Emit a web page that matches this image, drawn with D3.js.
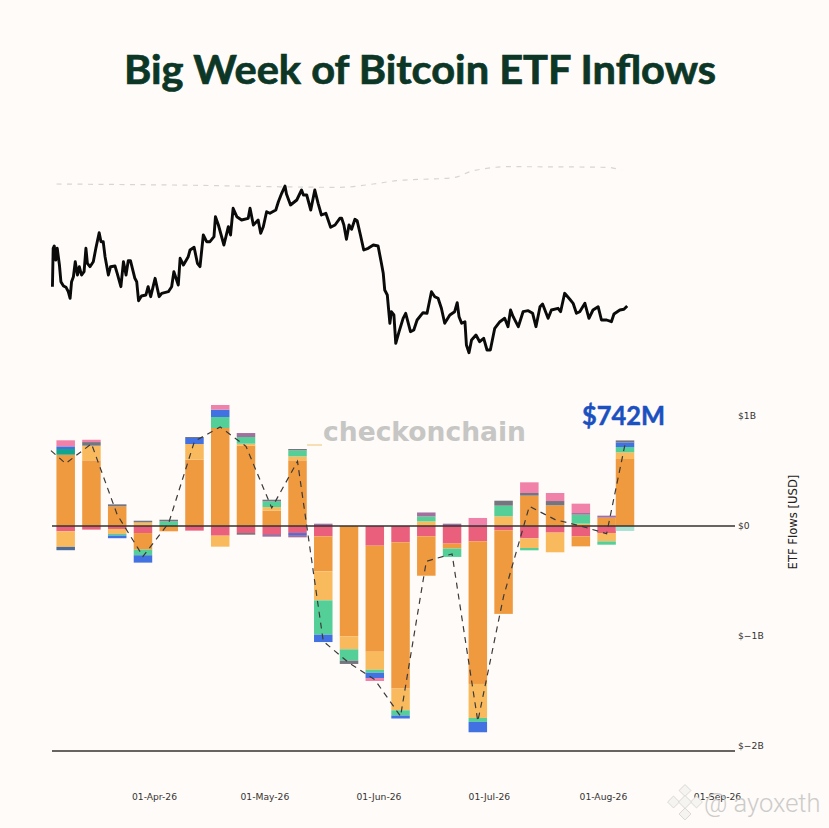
<!DOCTYPE html>
<html><head><meta charset="utf-8">
<script src="https://cdnjs.cloudflare.com/ajax/libs/d3/7.8.5/d3.min.js"></script>
<style>html,body{margin:0;padding:0;background:#fffbf8}svg{display:block}</style>
</head><body><svg id="c" width="829" height="828"></svg>
<script>
const titleText = "Big Week of Bitcoin ETF Inflows";
const weekStart = "2026-03-08";
const tickDates = ["2026-04-01","2026-05-01","2026-06-01","2026-07-01","2026-08-01","2026-09-01"];
const flowTicks = [1000,0,-1000,-2000];
const weekDays = [0,7,14,21,28,35,42,49,56,63,70,77,84,91,98,105,112,119,126,133,140,147,152];
// weekly flows, $M
const red =        [-48,-33,-27,-64,0,-42,-88,-64,-73,-64,-94,0,-179,-148,-94,-160,-139,-39,-112,-60,-94,-64,0];
const orange =     [648,597,179,-151,-48,603,891,730,139,597,-318,-1003,-964,-1330,-358,-45,-1297,-760,276,188,-91,76,609];
const lightOrange =[-142,133,-45,33,0,142,-100,18,33,36,-264,-118,-164,-197,42,0,-309,88,-88,-179,21,-76,61];
const green =      [0,0,-15,-51,42,0,100,61,52,55,-312,-103,-27,-48,45,-76,-36,97,-21,0,82,-30,48];
const teal =       [52,0,0,0,0,0,0,0,0,0,0,0,0,0,0,0,0,0,0,0,0,0,0];
const blue =       [24,0,-24,-67,0,55,67,0,0,-18,-67,0,-48,-27,0,0,-94,0,0,0,0,0,42];
const steel =      [-30,0,0,0,0,0,0,0,0,0,0,0,0,0,0,0,0,0,0,0,0,0,0];
const slate =      [0,33,18,15,15,9,0,-15,15,12,0,-30,0,0,0,0,0,45,24,39,0,0,18];
const purple =     [0,0,0,0,0,0,0,36,-24,-21,21,0,0,0,36,21,0,0,0,0,15,18,0];
const pink =       [55,21,0,0,0,0,42,0,0,0,0,0,-27,0,0,0,73,0,97,73,85,0,0];
const pale =       [0,0,0,0,0,0,0,0,0,0,0,0,0,0,0,0,0,0,0,0,0,0,-45];
const seriesNames = ["red","orange","lightOrange","green","teal","blue","steel","slate","purple","pink","pale"];
const seriesValues = [red,orange,lightOrange,green,teal,blue,steel,slate,purple,pink,pale];
const seriesColors = ["#ea5f7c","#f09a40","#f9ba5e","#55cf98","#12a48c","#4272e2","#4a6c9c","#74757e","#a2709f","#f081a8","#a8e2d2"];
// dashed net flow, $M (starts a few days before the first bar)
const netDays = [-4,0,7,14,21,28,35,42,49,56,63,70,77,84,91,98,105,112,119,126,133,140,147,152];
const netFlows = [685,568,748,103,-276,27,770,900,724,164,588,-1048,-1245,-1397,-1730,-321,-254,-1775,-639,179,58,0,-70,742];
// price line: days since 4 Mar, index level
const priceDays = [0.4,0.6,0.9,1.3,1.7,2.3,2.7,3.4,4.1,4.7,5.2,5.6,6.1,6.6,7.2,7.7,8.3,9,9.5,9.9,10.6,11.5,12.2,13.1,13.6,14.2,14.7,15.6,16.2,17.4,18,19,19.7,20.4,21,21.6,22.8,23.3,23.8,24.6,25.8,26.4,27.1,28.3,29.4,30.1,31.9,32.8,33.4,34.6,35.1,36,37.3,37.8,38.9,39.8,40.5,41.4,42.3,43.2,44.3,44.7,45.5,47,48.2,48.8,49.5,50.5,51.8,53.6,54.1,55,56.3,57,57.7,58.6,59.5,61.1,61.8,62.7,63.6,64,65.1,66.8,68.1,68.6,69.5,70.6,71.7,72.6,73.5,74.7,76,77.2,78.5,79,79.6,80.3,81,81.7,82.6,83.2,84.1,85,86.2,87.6,88.9,89.8,90.3,90.7,91.4,92.1,92.5,93.2,93.7,94.6,95.7,96.4,97.7,98.6,99.5,101.1,102.2,103.4,104.3,105.2,106.1,107,108.4,109.7,110.4,110.9,111.6,112.5,112.9,113.6,114.3,115.5,116.5,117.6,118.5,119.4,120.6,122,123.3,124.2,124.9,125.6,127,128.3,129.7,130.9,131.8,132.9,133.6,135.1,136,137.8,138.5,139.6,141,141.9,142.8,143.7,145.1,146.2,147.3,148.7,149.6,151,152.3,153,154.6,155.7,156.6];
const priceIndex = [73.3,111.7,114,100,111.7,95,78.3,74,72.7,68.3,61.7,78.3,83.3,98.3,85,93.3,85,88.3,111.7,96.7,93.3,98.3,111.7,127.3,118.3,118.3,103.3,85,93.3,94,86.7,73.3,98.3,85,99.3,99.3,81.7,78.3,59.3,64,65,73.3,63.3,81.7,63.3,66.7,68.3,73.3,88.3,75,101.7,95,103.3,110,112.7,96.7,93.3,125,118.3,118.3,123.3,143.3,135,115,133.3,125,151.7,143.3,140,141.7,151.7,135,140,126.7,133.3,148.3,146.7,150,158.3,166.7,174,166,155,160,170,165,165,150,170,156.7,145,146.7,132.7,135,141.7,141.7,135,120.7,135,130.7,140.7,139.3,125,110,111.7,115,114,96.7,86.7,70,65,36.7,48.3,45,16.7,28.3,41.7,46.7,28.3,30,40,47.3,46.7,68.3,63.3,61.7,51.7,36.7,45,48.3,57.3,43.3,36.7,38.3,15,7.3,20,25,18.3,21.7,10,10,31.7,38.3,41.7,33.3,50,43.3,33.3,48.3,49.3,46.7,33.3,53.3,56,41.7,50,51.7,48.3,66.7,60.7,56.7,46.7,48.3,56.7,41.7,50,53.3,40,40,38.3,46,50,50.7,54];
const trendDays = [1.5,33.2,78.5,87.6,93.9,109.3,114.7,117.4,123.3,151,155];
const trendIndex = [176,175,172.7,176,179.3,182.3,189.3,191,193.3,192.7,190];

const svg = d3.select("#c");
const W = 829, H = 828;
svg.append("rect").attr("width",W).attr("height",H).attr("fill","#fffbf8");
const dayMs = 864e5;
const parse = d3.utcParse("%Y-%m-%d");
const x = d3.scaleUtc().domain([parse("2026-04-01"),parse("2026-09-01")]).range([154,717]);
const base = parse(weekStart), priceBase = parse("2026-03-04");
const dateOf = d => new Date(+base + d*dayMs);
const priceDate = d => new Date(+priceBase + d*dayMs);
const yFlow = d3.scaleLinear().domain([-2000,1000]).range([746,416]);
const yPrice = d3.scaleLinear().domain([0,200]).range([360,160]);

svg.append("text").attr("x",124).attr("y",84).attr("font-family","Lato").attr("font-weight",700).attr("font-size",40)
  .attr("textLength",592).attr("lengthAdjust","spacingAndGlyphs")
  .attr("fill","#0c3626").attr("stroke","#0c3626").attr("stroke-width",0.7).text(titleText);

// trend + price
svg.append("path").attr("fill","none").attr("stroke","#d6d6d3").attr("stroke-width",1.2).attr("stroke-dasharray","5,5.5")
  .attr("d",d3.line().x((d,i)=>x(priceDate(trendDays[i]))).y(d=>yPrice(d)).curve(d3.curveMonotoneX)(trendIndex));
svg.append("path").attr("fill","none").attr("stroke","#0a0a0a").attr("stroke-width",2.9).attr("stroke-linejoin","round")
  .attr("d",d3.line().x((d,i)=>x(priceDate(priceDays[i]))).y(d=>yPrice(d))(priceIndex));

// stacked bars
const rows = weekDays.map((d,i)=>{const r={day:d};seriesNames.forEach((n,k)=>r[n]=seriesValues[k][i]);return r;});
const stack = d3.stack().keys(seriesNames).offset(d3.stackOffsetDiverging)(rows);
const barW = 18.5;
const layers = svg.append("g").selectAll("g").data(stack).join("g").attr("fill",(d,i)=>seriesColors[i]);
layers.selectAll("rect").data(d=>d.filter(s=>s[0]!==s[1])).join("rect")
  .attr("x",d=>x(dateOf(d.data.day))-barW/2).attr("width",barW)
  .attr("y",d=>yFlow(Math.max(d[0],d[1]))).attr("height",d=>Math.abs(yFlow(d[0])-yFlow(d[1])));

// net flow
svg.append("path").attr("fill","none").attr("stroke","#3a3a3a").attr("stroke-width",1.2).attr("stroke-dasharray","6,5")
  .attr("d",d3.line().x((d,i)=>x(dateOf(netDays[i]))).y(d=>yFlow(d))(netFlows));

// zero + floor lines
[0,-2045].forEach(v=>svg.append("line").attr("x1",52).attr("x2",735).attr("y1",yFlow(v)).attr("y2",yFlow(v))
  .attr("stroke","#333").attr("stroke-width",1.6));
// small pale dash
svg.append("line").attr("x1",307).attr("x2",322).attr("y1",445).attr("y2",445).attr("stroke","#f6dfb4").attr("stroke-width",2);

// axes
const fmt = d3.utcFormat("%d-%b-%y");
const xAxis = svg.append("g").attr("transform","translate(0,797)")
  .call(d3.axisBottom(x).tickValues(tickDates.map(parse)).tickFormat(fmt).tickSize(0).tickPadding(0));
xAxis.select(".domain").remove();
xAxis.selectAll("text").attr("font-family","DejaVu Sans").attr("font-size",9.2).attr("fill","#333").attr("dy","0.32em");
const yAxis = svg.append("g").attr("transform","translate(738,0)")
  .call(d3.axisRight(yFlow).tickValues(flowTicks).tickSize(0).tickPadding(0)
    .tickFormat(v=>v===0?"$0":(v<0?"$\u2212":"$")+Math.abs(v/1000)+"B"));
yAxis.select(".domain").remove();
yAxis.selectAll("text").attr("font-family","DejaVu Sans").attr("font-size",9.2).attr("fill","#333");
svg.append("text").attr("transform","translate(797,522) rotate(-90)").attr("text-anchor","middle")
  .attr("font-family","DejaVu Sans").attr("font-size",11.6).attr("fill","#222").text("ETF Flows [USD]");

// annotations
svg.append("text").attr("x",582).attr("y",425).attr("font-family","Lato").attr("font-weight",700).attr("font-size",27)
  .attr("textLength",83).attr("lengthAdjust","spacingAndGlyphs").attr("fill","#1b50c0")
  .attr("stroke","#1b50c0").attr("stroke-width",0.5).text("$742M");
svg.append("text").attr("x",323).attr("y",441).attr("font-family","DejaVu Sans").attr("font-weight",700).attr("font-size",26)
  .attr("fill","#c6c6c4").attr("textLength",203).attr("lengthAdjust","spacingAndGlyphs").text("checkonchain");

// watermark
const wm = svg.append("g").attr("fill","#f6f4f1").attr("stroke","#d2d2d0").attr("stroke-width",0.8);
[[685,790.5,4.2],[685,814,4.2],[673.5,802,4.2],[696.5,802,4.2],[685,802,4.6]].forEach(([cx,cy,r])=>
  wm.append("rect").attr("x",cx-r).attr("y",cy-r).attr("width",2*r).attr("height",2*r).attr("transform",`rotate(45 ${cx} ${cy})`));
svg.append("text").attr("x",704).attr("y",812).attr("font-family","Roboto").attr("font-weight",300).attr("font-size",25.5)
  .attr("fill","#c4c4c2").attr("opacity",0.85).text("@ ayoxeth");
</script></body></html>
